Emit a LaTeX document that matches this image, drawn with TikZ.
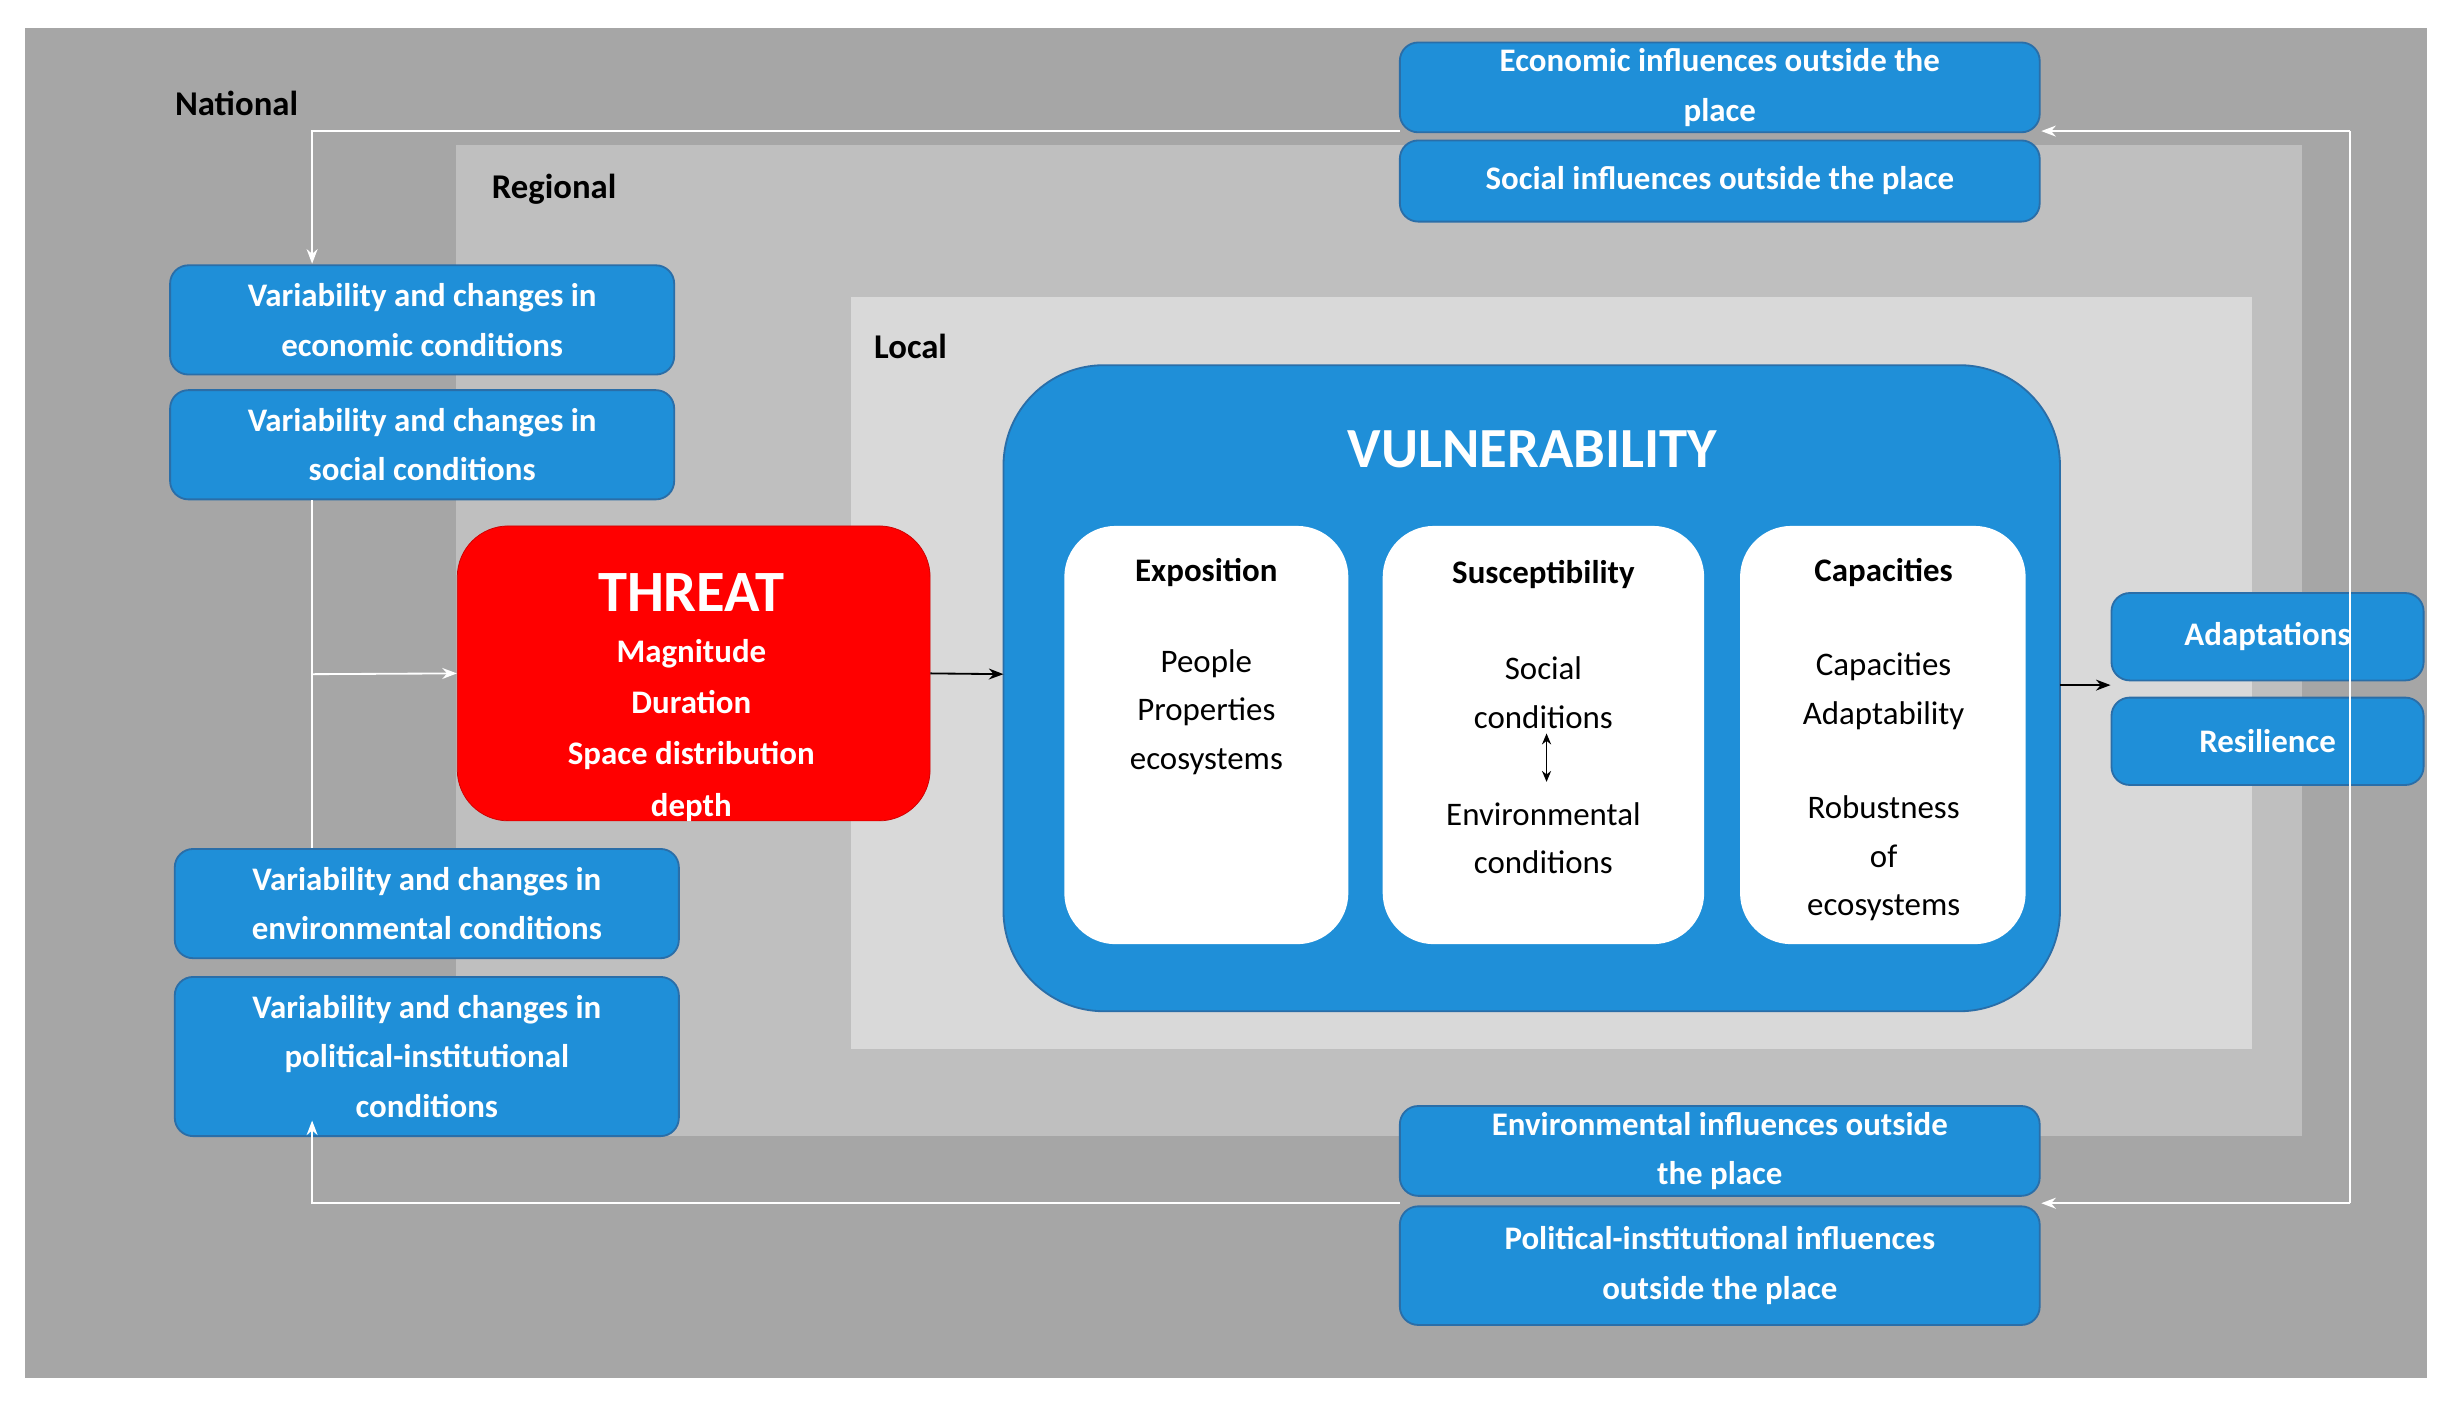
\documentclass[tikz,border=0pt]{standalone}
\usepackage{fontspec}
\setmainfont{Carlito}
\usetikzlibrary{arrows.meta}
\definecolor{nat}{HTML}{A6A6A6}
\definecolor{reg}{HTML}{BFBFBF}
\definecolor{loc}{HTML}{D9D9D9}
\definecolor{bl}{HTML}{1F8FD8}
\definecolor{bld}{HTML}{2A6EA8}
\tikzset{
 bx/.style={draw=bld,line width=1pt,fill=bl,rounded corners=10pt,text=white,font=\bfseries\fontsize{18}{27}\selectfont,align=center},
 wb/.style={fill=white,rounded corners=28pt},
 bt/.style={font=\fontsize{18}{26.5}\selectfont,align=center},
 lab/.style={font=\bfseries\fontsize{19}{23}\selectfont,anchor=west},
 wl/.style={draw=white,line width=1pt},
 wa/.style={wl,-{Stealth[length=8pt,width=6pt]}},
 ba/.style={draw=black,line width=1pt,-{Stealth[length=8pt,width=6pt]}}
}
\begin{document}
\begin{tikzpicture}[x=0.3mm,y=-0.3mm]
\useasboundingbox (0,0) rectangle (1568,905);
\fill[white] (0,0) rectangle (1568,905);
\fill[nat] (16,18) rectangle (1555,883);
\fill[reg] (292,93) rectangle (1475,728);
\fill[loc] (545,190) rectangle (1443,672);
\node[lab] (lnat) at (108,66) {National};
\node[lab] (lreg) at (311,121) {Regional};
\node[lab] (lloc) at (556,222) {Local};
% vulnerability
\draw[draw=bld,line width=1pt,fill=bl,rounded corners=55pt] (643,234) rectangle (1320,648);
\node[text=white,font=\bfseries\fontsize{31}{36}\selectfont] (vt) at (982,288) {VULNERABILITY};
\fill[wb] (682,337) rectangle (864,605);
\fill[wb] (886,337) rectangle (1092,605);
\fill[wb] (1115,337) rectangle (1298,605);
\node[bt,font=\bfseries\fontsize{18}{22}\selectfont] (ex) at (773,367) {Exposition};
\node[bt,font=\bfseries\fontsize{18}{22}\selectfont] (su) at (989,368) {Susceptibility};
\node[bt,font=\bfseries\fontsize{18}{22}\selectfont] (ca) at (1207,367) {Capacities};
\node[bt,anchor=north] (ext) at (773,412) {People\\Properties\\ecosystems};
\node[bt] (s1) at (989,444) {Social\\conditions};
\node[bt] (s2) at (989,537) {Environmental\\conditions};
\draw[draw=black,line width=0.8pt,{Stealth[length=6pt,width=5pt]}-{Stealth[length=6pt,width=5pt]}] (991,470) -- (991,501);
\node[bt] (c1) at (1207,443) {Capacities\\Adaptability};
\node[bt] (c2) at (1207,550) {Robustness\\of\\ecosystems};
% threat
\node[fill=red,draw=red!80!black,rounded corners=28pt,minimum width=303*0.3mm,minimum height=189*0.3mm,inner sep=0pt] (th) at (444.5,431.5) {};
\node[text=white,font=\bfseries\fontsize{32}{36}\selectfont] (tht) at (443,380) {THREAT};
\node[text=white,font=\bfseries\fontsize{18}{22}\selectfont,align=center] (thb) at (443,468) {Magnitude\\[6pt]Duration\\[6pt]Space distribution\\[6pt]depth};
% left boxes
\node[bx,minimum width=323*0.3mm,minimum height=70*0.3mm] (e1) at (270.5,205) {Variability and changes in\\economic conditions};
\node[bx,minimum width=323*0.3mm,minimum height=70*0.3mm] (e2) at (270.5,285) {Variability and changes in\\social conditions};
\node[bx,minimum width=323*0.3mm,minimum height=70*0.3mm] (e3) at (273.5,579) {Variability and changes in\\environmental conditions};
\node[bx,minimum width=323*0.3mm,minimum height=102*0.3mm] (e4) at (273.5,677) {Variability and changes in\\political-institutional\\conditions};
% top/bottom boxes
\node[bx,minimum width=410*0.3mm,minimum height=52*0.3mm] (o1) at (1102,56) {Economic influences outside the\\place};
\node[bx,minimum width=410*0.3mm,minimum height=52*0.3mm] (o2) at (1102,116) {Social influences outside the place};
\node[bx,minimum width=410*0.3mm,minimum height=57*0.3mm] (o3) at (1102,737.5) {Environmental influences outside\\the place};
\node[bx,minimum width=410*0.3mm,minimum height=76*0.3mm] (o4) at (1102,811) {Political-institutional influences\\outside the place};
\node[bx,minimum width=200*0.3mm,minimum height=56*0.3mm] (ad) at (1453,408) {Adaptations};
\node[bx,minimum width=200*0.3mm,minimum height=56*0.3mm] (re) at (1453,475) {Resilience};
% connectors
\coordinate (tl) at (200,84); \coordinate (tr) at (1506,84);
\coordinate (bll) at (200,771); \coordinate (brr) at (1506,771);
\draw[wa] (tr) -- (1308,84);
\draw[wa] (brr) -- (1308,771);
\draw[wl] (tr) -- (brr);
\draw[wa] (897,84) -- (tl) -- (200,169);
\draw[wa] (897,771) -- (bll) -- (200,718);
\draw[wl] (e2.south -| 200,0) -- (e3.north -| 200,0);
\draw[wa] (200,432) -- (th.west);
\draw[ba] (th.east) -- (643,432);
\draw[ba] (1320,439) -- (ad.west |- 0,439);
\end{tikzpicture}
\end{document}
